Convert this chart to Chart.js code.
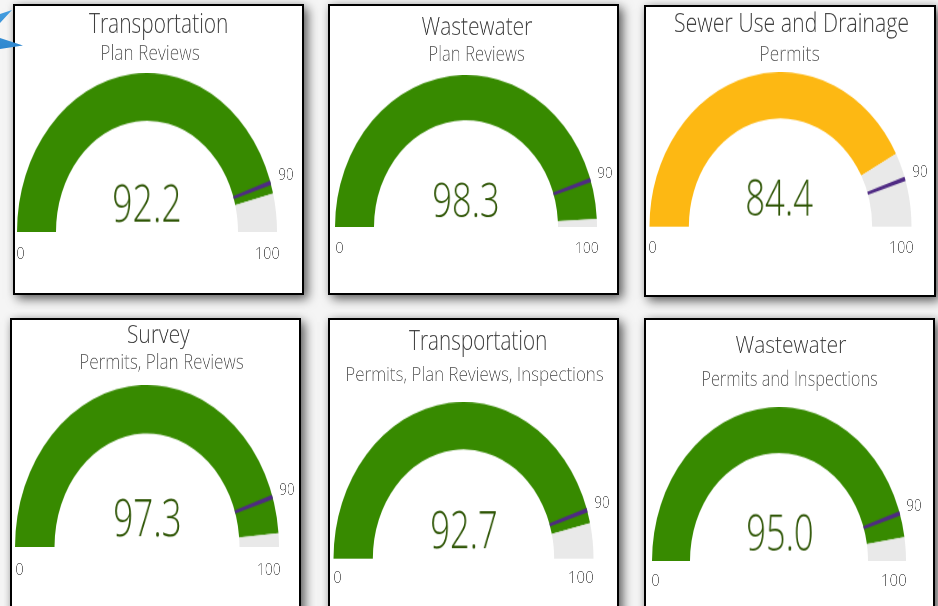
<!DOCTYPE html>
<html><head><meta charset="utf-8">
<script src="https://cdn.jsdelivr.net/npm/chart.js@4/dist/chart.umd.min.js"></script>
<style>
html,body{margin:0;padding:0;width:938px;height:606px;overflow:hidden;background:#f5f5f5}
#stage{position:absolute;left:0;top:0;width:938px;height:606px;overflow:hidden}
.panel{position:absolute;box-sizing:border-box;background:#fff;border:2px solid #000;box-shadow:4px 4px 10px rgba(0,0,0,.6),0 0 7px rgba(0,0,0,.1)}
.gauge{position:absolute;transform-origin:0 0}
.gauge canvas{position:absolute;left:0;top:0}
.t{position:absolute;left:0;top:0;white-space:pre;transform-origin:0 0;font-family:"Open Sans",sans-serif;font-weight:300;will-change:transform}
.deco{position:absolute;left:0;top:0;width:30px;height:55px;background:linear-gradient(180deg,#4aa3e4,#2a83cc)}
</style></head><body><div id="stage"></div>
<script>
// ---- chart data ----
const titles = ["Transportation","Wastewater","Sewer Use and Drainage","Survey","Transportation","Wastewater"];
const subtitles = ["Plan Reviews","Plan Reviews","Permits","Permits, Plan Reviews","Permits, Plan Reviews, Inspections","Permits and Inspections"];
const values = [92.2,98.3,84.4,97.3,92.7,95.0];
const valueLabels = ["92.2","98.3","84.4","97.3","92.7","95.0"];
const target = 90;
const axisMin = 0;
const axisMax = 100;
const targetWidth = 0.9;

// ---- layout (not data) ----
const panelBoxes = [[13,4,291,291],[328,4,291,291],[644,5,292,292],[10,318,291,300],[328,318,291,300],[644,318,291,300]];
// outer left, outer right, outer top, base, inner left, inner right
const gaugeBoxes = [[17,277,73,232,56,238],[335,597,75,227,374,558],[649,912,72,226,688,872],[15,279,385,547,54,239],[333,594,402,558,373,555],[652,906,407,561,690,868]];
// left, right, baseline, cap height
const titleBoxes = [[89,227,33,20],[422,532,35,18],[675,908,32,19],[128,190,343,18],[409,546,350,20],[736,846,353,17]];
const subBoxes = [[102,199,60,15],[430,524,61,15],[761,819,61,15],[81,243,369,15],[347,603,381,14],[703,877,386,15]];
const valueBoxes = [[114,180,222,38],[434,498,217,35],[747,813,216,36],[115,180,536,37],[432,496,548,37],[748,812,551,36]];
const minBoxes = [[17,24,259,12],[336,343,253,11],[649,656,253,12],[16,23,575,12],[334,341,583,12],[652,659,586,12]];
const maxBoxes = [[256,279,259,12],[576,598,253,11],[890,913,253,12],[258,280,575,12],[569,593,583,12],[882,906,586,12]];
const targetBoxes = [[279,293,180,12],[598,612,178,11],[913,927,177,12],[280,294,495,12],[595,609,508,12],[907,921,511,12]];

const GREEN="#378a00", AMBER="#fdb813", GREY="#e9e9e9", PURPLE="#4f2a84";
const stage=document.getElementById("stage");
const mc=document.createElement("canvas").getContext("2d");

function addText(str,box,color,weight){
  const size=40, w=weight||300, font=w+' '+size+'px "Open Sans", sans-serif';
  mc.font=font;
  const m=mc.measureText(str), cap=mc.measureText("H").actualBoundingBoxAscent;
  const asc=m.fontBoundingBoxAscent, desc=m.fontBoundingBoxDescent;
  const ink=m.actualBoundingBoxLeft+m.actualBoundingBoxRight;
  const sx=(box[1]-box[0])/ink, sy=box[3]/cap;
  const el=document.createElement("div");
  el.className="t"; el.textContent=str;
  el.style.fontSize=size+"px"; el.style.fontWeight=w; el.style.color=color;
  el.style.lineHeight=(asc+desc)+"px";
  const tx=box[0]+m.actualBoundingBoxLeft*sx, ty=box[2]-asc*sy;
  el.style.transform="translate("+tx+"px,"+ty+"px) scale("+sx+","+sy+")";
  stage.appendChild(el);
}

function ring(parent,w,h,cut,data,colors){
  const c=document.createElement("canvas");
  c.width=w;c.height=h;c.style.width=w+"px";c.style.height=h+"px";
  parent.appendChild(c);
  new Chart(c,{type:"doughnut",
    data:{datasets:[{data:data,backgroundColor:colors,borderWidth:0,hoverOffset:0}]},
    options:{responsive:false,animation:false,devicePixelRatio:1,rotation:-90,circumference:180,cutout:cut+"%",
      layout:{padding:0},events:[],plugins:{legend:{display:false},tooltip:{enabled:false}}}});
}

panelBoxes.forEach((p,i)=>{
  const el=document.createElement("div");el.className="panel";
  el.style.cssText="left:"+p[0]+"px;top:"+p[1]+"px;width:"+p[2]+"px;height:"+p[3]+"px";
  stage.appendChild(el);
  const g=gaugeBoxes[i], w=g[1]-g[0], h=w/2, cut=(g[5]-g[4])/w*100;
  const wrap=document.createElement("div");wrap.className="gauge";
  wrap.style.left=g[0]+"px";wrap.style.top=g[2]+"px";wrap.style.width=w+"px";wrap.style.height=h+"px";
  wrap.style.transform="scale(1,"+((g[3]-g[2])/h)+")";
  stage.appendChild(wrap);
  const v=values[i];
  ring(wrap,w,h,cut,[v-axisMin,axisMax-v],[v>=target?GREEN:AMBER,GREY]);
  ring(wrap,w,h,cut,[target-targetWidth/2-axisMin,targetWidth,axisMax-target-targetWidth/2],["rgba(0,0,0,0)",PURPLE,"rgba(0,0,0,0)"]);
  addText(titles[i],titleBoxes[i],"#404040");
  addText(subtitles[i],subBoxes[i],"#666");
  addText(valueLabels[i],valueBoxes[i],"#2f5606");
  addText(String(axisMin),minBoxes[i],"#666");
  addText(String(axisMax),maxBoxes[i],"#666");
  addText(String(target),targetBoxes[i],"#666");
});
const d=document.createElement("div");d.className="deco";
d.style.clipPath="polygon(0 38px,23px 45.5px,0 49px,0 23px,12px 10px,0 14px)";
stage.appendChild(d);
</script></body></html>
